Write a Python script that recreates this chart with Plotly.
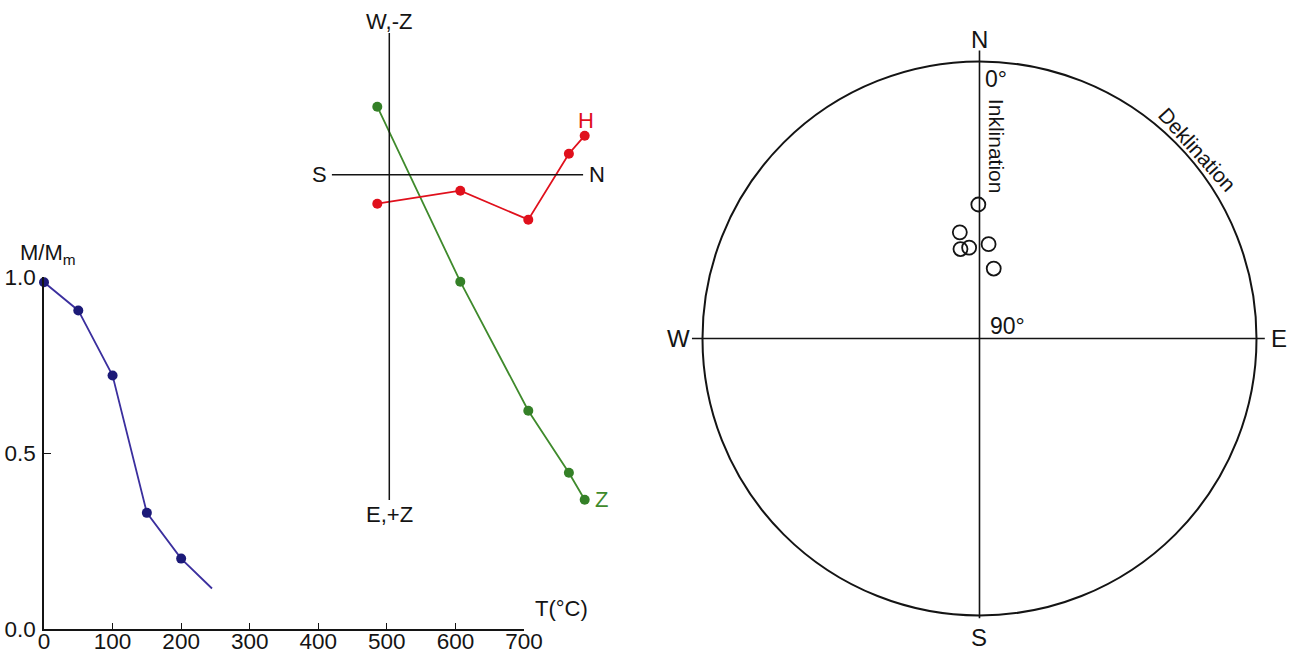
import numpy as np
import plotly.graph_objects as go

# --- Thermal demagnetisation curve (M/Mm versus temperature) ---
temp_c = [0, 50, 100, 150, 200, 245]
m_ratio = [0.985, 0.905, 0.72, 0.33, 0.2, 0.115]
measured = [True, True, True, True, True, False]   # last vertex only continues the line

temp_ticks = [0, 100, 200, 300, 400, 500, 600, 700]
m_ticks = [0.0, 0.5, 1.0]

# --- Zijderveld diagram: N component shared by both projections ---
zij_north = [-0.6, 3.55, 6.95, 8.98, 9.77]
zij_west = [-1.45, -0.8, -2.25, 1.05, 1.95]      # horizontal projection (H)
zij_up = [3.4, -5.35, -11.8, -14.9, -16.25]       # vertical projection (Z)

# --- Stereonet: remanence directions ---
declination = [359.5, 349.5, 348.0, 353.5, 5.5, 11.5]
inclination = [50, 58, 63, 63, 62, 69]

FONT = "Liberation Sans, Arial, sans-serif"
INK = "#141414"
W, H = 1295, 655


def px_x(p):
    return p / W


def px_y(p):
    return 1 - p / H


def equal_area(dec, inc):
    d = np.radians(np.asarray(dec, float))
    r = np.sqrt(2) * np.sin(np.radians(90 - np.asarray(inc, float)) / 2)
    return r * np.sin(d), r * np.cos(d)


fig = go.Figure()

# demagnetisation curve
fig.add_trace(go.Scatter(
    x=temp_c, y=m_ratio, mode="lines+markers",
    line=dict(color="#3b2f9e", width=1.8),
    marker=dict(color="#1c1a78", opacity=1,
                size=[10 if m else 0 for m in measured],
                line=dict(width=0)),
    cliponaxis=False, xaxis="x", yaxis="y", hoverinfo="skip"))

# Zijderveld projections
fig.add_trace(go.Scatter(
    x=zij_north, y=zij_up, mode="lines+markers",
    line=dict(color="#3f8a2c", width=1.8),
    marker=dict(color="#348027", size=10),
    cliponaxis=False, xaxis="x2", yaxis="y2", hoverinfo="skip"))
fig.add_trace(go.Scatter(
    x=zij_north, y=zij_west, mode="lines+markers",
    line=dict(color="#e0101c", width=1.8),
    marker=dict(color="#e0101c", size=10),
    cliponaxis=False, xaxis="x2", yaxis="y2", hoverinfo="skip"))

# stereonet directions
sx, sy = equal_area(declination, inclination)
fig.add_trace(go.Scatter(
    x=sx, y=sy, mode="markers",
    marker=dict(symbol="circle-open", size=14, color=INK, line=dict(width=1.8)),
    cliponaxis=False, xaxis="x3", yaxis="y3", hoverinfo="skip"))

# Zijderveld frame
zx0, zx1 = -2.87, 9.69
zy0, zy1 = -16.27, 7.09
shapes = [
    dict(type="line", xref="x2", yref="y2", x0=0, x1=0, y0=zy0, y1=zy1,
         line=dict(color=INK, width=1.5)),
    dict(type="line", xref="x2", yref="y2", x0=zx0, x1=zx1, y0=0, y1=0,
         line=dict(color=INK, width=1.5)),
    # stereonet
    dict(type="circle", xref="x3", yref="y3", x0=-1, x1=1, y0=-1, y1=1,
         line=dict(color=INK, width=2)),
    dict(type="line", xref="x3", yref="y3", x0=0, x1=0, y0=-1.01, y1=1.04,
         line=dict(color=INK, width=1.6)),
    dict(type="line", xref="x3", yref="y3", x0=-1.038, x1=1.03, y0=0, y1=0,
         line=dict(color=INK, width=1.6)),
]

def note(text, x, y, xref, yref, size=22, color=INK, **kw):
    return dict(text=text, x=x, y=y, xref=xref, yref=yref, showarrow=False,
                font=dict(family=FONT, size=size, color=color), **kw)

annotations = [
    note("M/M<sub>m</sub>", px_x(18), px_y(254), "paper", "paper",
         xanchor="left"),
    note("T(°C)", px_x(561), px_y(623), "paper", "paper"),
    note("W,-Z", 0, zy1, "x2", "y2", yanchor="bottom", yshift=-3),
    note("E,+Z", 0, zy0, "x2", "y2", yanchor="top"),
    note("S", zx0, 0, "x2", "y2", xanchor="right", xshift=-3),
    note("N", zx1, 0, "x2", "y2", xanchor="left", xshift=4),
    note("H", zij_north[-1], zij_west[-1], "x2", "y2", color="#e0101c",
         yanchor="bottom", xshift=1, yshift=1),
    note("Z", zij_north[-1], zij_up[-1], "x2", "y2", color="#3f8a2c",
         xanchor="left", xshift=8),
    note("N", 0, 1.078, "x3", "y3", size=24),
    note("S", 0, -1.079, "x3", "y3", size=24),
    note("W", -1.088, 0, "x3", "y3", size=24),
    note("E", 1.08, 0, "x3", "y3", size=24),
    note("0°", 0.012, 0.937, "x3", "y3", xanchor="left", size=23),
    note("Inklination", 0.06, 0.695, "x3", "y3", size=21, textangle=90),
    note("90°", 0.03, 0.045, "x3", "y3", xanchor="left", size=23),
    note("Deklination", 0.785, 0.681, "x3", "y3", size=21, textangle=48),
]

axis_font = dict(family=FONT, size=22.5, color=INK)

fig.update_layout(
    width=W, height=H, autosize=False,
    margin=dict(l=0, r=0, t=0, b=0, pad=0, autoexpand=False),
    paper_bgcolor="white", plot_bgcolor="rgba(0,0,0,0)",
    showlegend=False,
    shapes=shapes, annotations=annotations,
    xaxis=dict(domain=[px_x(44), px_x(524)], range=[0, 700],
               tickvals=temp_ticks, ticktext=[str(t) for t in temp_ticks],
               ticks="inside", ticklen=6, tickwidth=1.3, tickcolor=INK,
               showline=True, linecolor=INK, linewidth=1.5,
               showgrid=False, zeroline=False, tickfont=axis_font,
               ticklabelstandoff=-9, automargin=False,
               anchor="y", fixedrange=True),
    yaxis=dict(domain=[px_y(629), px_y(277)], range=[0, 1],
               tickvals=m_ticks, ticktext=[f"{v:.1f}" for v in m_ticks],
               ticks="inside", ticklen=7, tickwidth=1.3, tickcolor=INK,
               showline=True, linecolor=INK, linewidth=1.5,
               showgrid=False, zeroline=False, tickfont=axis_font,
               ticklabelstandoff=2, automargin=False,
               anchor="x", fixedrange=True),
    xaxis2=dict(domain=[px_x(300), px_x(630)], range=[-4.465, 12.035],
                visible=False, anchor="y2", fixedrange=True, automargin=False),
    yaxis2=dict(domain=[px_y(560), 1], range=[-19.265, 8.735],
                visible=False, anchor="x2", fixedrange=True, automargin=False),
    xaxis3=dict(domain=[px_x(650), 1], range=[-1.1895, 1.139],
                visible=False, anchor="y3", fixedrange=True, automargin=False),
    yaxis3=dict(domain=[0, 1], range=[-1.1426, 1.222],
                visible=False, anchor="x3", fixedrange=True, automargin=False),
)

fig.write_html("out.html")
